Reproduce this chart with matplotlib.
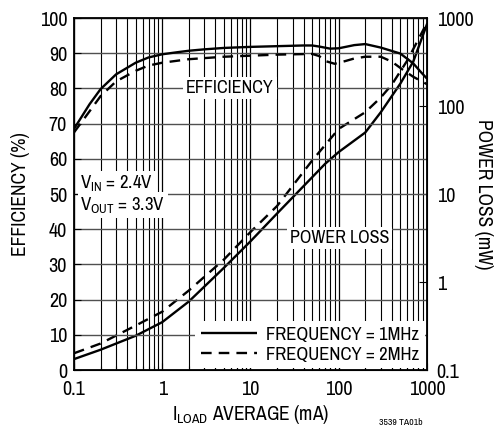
import matplotlib
matplotlib.use("Agg")
import matplotlib.pyplot as plt
import numpy as np
from matplotlib.ticker import FixedLocator, NullFormatter, NullLocator

plt.rcParams['font.family'] = ['Archivo Narrow', 'DejaVu Sans']
plt.rcParams['mathtext.fontset'] = 'custom'
plt.rcParams['mathtext.rm'] = 'Archivo Narrow'

# ---- data ----
eff1_x = [0.1, 0.15, 0.2, 0.3, 0.5, 0.7, 1, 1.5, 2, 3, 5, 10, 20, 40, 50, 60, 80, 100, 150, 200, 300, 500, 700, 850, 1000]
eff1_y = [68.5, 75.5, 79.8, 84.0, 87.3, 88.8, 89.7, 90.3, 90.7, 91.1, 91.5, 91.8, 92.0, 92.2, 92.2, 91.9, 91.3, 91.4, 92.3, 92.6, 91.6, 89.9, 87.1, 84.7, 82.8]

eff2_x = [0.1, 0.15, 0.2, 0.3, 0.5, 0.7, 1, 2, 5, 10, 20, 50, 60, 70, 90, 120, 150, 200, 300, 400, 540, 700, 1000]
eff2_y = [67.5, 73.5, 77.8, 82.0, 85.0, 86.5, 87.3, 88.3, 89.0, 89.3, 89.6, 89.8, 89.2, 87.8, 87.0, 87.8, 88.5, 89.0, 89.0, 87.6, 85.2, 83.3, 81.2]

loss1_x = [0.1, 0.2, 0.5, 1, 2, 5, 10, 20, 50, 70, 100, 200, 300, 500, 700, 1000]
loss1_y = [0.133, 0.17, 0.245, 0.35, 0.6, 1.45, 2.9, 6.0, 15.5, 22, 30, 50, 85, 180, 320, 850]

loss2_x = [0.1, 0.2, 0.5, 1, 2, 5, 10, 20, 50, 100, 200, 300, 400, 600, 1000]
loss2_y = [0.155, 0.2, 0.32, 0.46, 0.8, 1.8, 3.7, 7.3, 24, 55, 85, 125, 175, 330, 880]

x_ticks = [0.1, 1, 10, 100, 1000]
x_tick_labels = ["0.1", "1", "10", "100", "1000"]
y_ticks = list(range(0, 101, 10))
r_ticks = [0.1, 1, 10, 100, 1000]
r_tick_labels = ["0.1", "1", "10", "100", "1000"]

fig = plt.figure(figsize=(4.95, 4.29), dpi=100)
ax = fig.add_axes([0.1495, 0.1375, 0.713, 0.8205])
ax.set_xscale('log')
ax.set_xlim(0.1, 1000)
ax.set_ylim(0, 100)

# grid
ax.xaxis.set_major_locator(FixedLocator(x_ticks))
minor = [m * 10.0**d for d in range(-1, 3) for m in range(2, 10)]
ax.xaxis.set_minor_locator(FixedLocator(minor))
ax.xaxis.set_minor_formatter(NullFormatter())
ax.set_xticklabels(x_tick_labels)
ax.set_yticks(y_ticks)
ax.grid(True, which='major', axis='x', color='black', lw=0.9)
ax.grid(True, which='minor', axis='x', color='black', lw=0.8)
ax.grid(True, which='major', axis='y', color='#505050', lw=1.0)
ax.tick_params(axis='both', which='both', direction='in', labelsize=14.5, width=0.8)
ax.tick_params(axis='x', which='major', length=5, pad=7)
ax.tick_params(axis='x', which='minor', length=3)
ax.tick_params(axis='y', length=5, pad=5)
for s in ax.spines.values():
    s.set_linewidth(1.3)

ax2 = ax.twinx()
ax2.set_yscale('log')
ax2.set_ylim(0.1, 1000)
ax2.yaxis.set_major_locator(FixedLocator(r_ticks))
ax2.set_yticklabels(r_tick_labels)
ax2.yaxis.set_minor_locator(NullLocator())
ax2.tick_params(axis='y', direction='in', length=6, labelsize=14.5, pad=7, width=0.8)

dash = (0, (4.5, 3.0))
# labels with white background (drawn under curves)
bbox = dict(facecolor='white', edgecolor='none', pad=2)
ax.text(5.86, 80.1, "EFFICIENCY", ha='center', va='center', fontsize=13, bbox=bbox, zorder=3)
ax.text(103, 37.5, "POWER LOSS", ha='center', va='center', fontsize=13, bbox=bbox, zorder=3)
ax.text(0.118, 53.0, "$\\mathregular{V_{IN}}$ = 2.4V", ha='left', va='center', fontsize=13.5, bbox=bbox, zorder=3)
ax.text(0.118, 46.8, "$\\mathregular{V_{OUT}}$ = 3.3V", ha='left', va='center', fontsize=13.5, bbox=bbox, zorder=3)

l1, = ax.plot(eff1_x, eff1_y, color='black', lw=1.7, zorder=4, solid_capstyle='butt')
l2, = ax.plot(eff2_x, eff2_y, color='black', lw=1.7, ls=dash, zorder=4)
ax2.plot(loss1_x, loss1_y, color='black', lw=1.7, zorder=4)
ax2.plot(loss2_x, loss2_y, color='black', lw=1.7, ls=dash, zorder=4)
ax.set_zorder(ax2.get_zorder() + 1)
ax.patch.set_visible(False)

leg = ax.legend([l1, l2], ["FREQUENCY = 1MHz", "FREQUENCY = 2MHz"], loc='lower right',
                fontsize=13.5, frameon=True, fancybox=False, handlelength=3.0,
                borderaxespad=0.1, labelspacing=0.2, handletextpad=0.5, borderpad=0.3)
leg.get_frame().set_facecolor('white')
leg.get_frame().set_edgecolor('none')
leg.get_frame().set_alpha(1)
leg.set_zorder(6)

ax.set_ylabel("EFFICIENCY (%)", fontsize=14, labelpad=7)
ax2.set_ylabel("POWER LOSS (mW)", fontsize=14, rotation=-90, labelpad=14)
ax.set_xlabel("$\\mathregular{I_{LOAD}}$ AVERAGE (mA)", fontsize=14, labelpad=3)
fig.text(0.81, 0.004, "3539 TA01b", fontsize=7, ha='center', va='bottom')

fig.savefig("out.png", dpi=100)
